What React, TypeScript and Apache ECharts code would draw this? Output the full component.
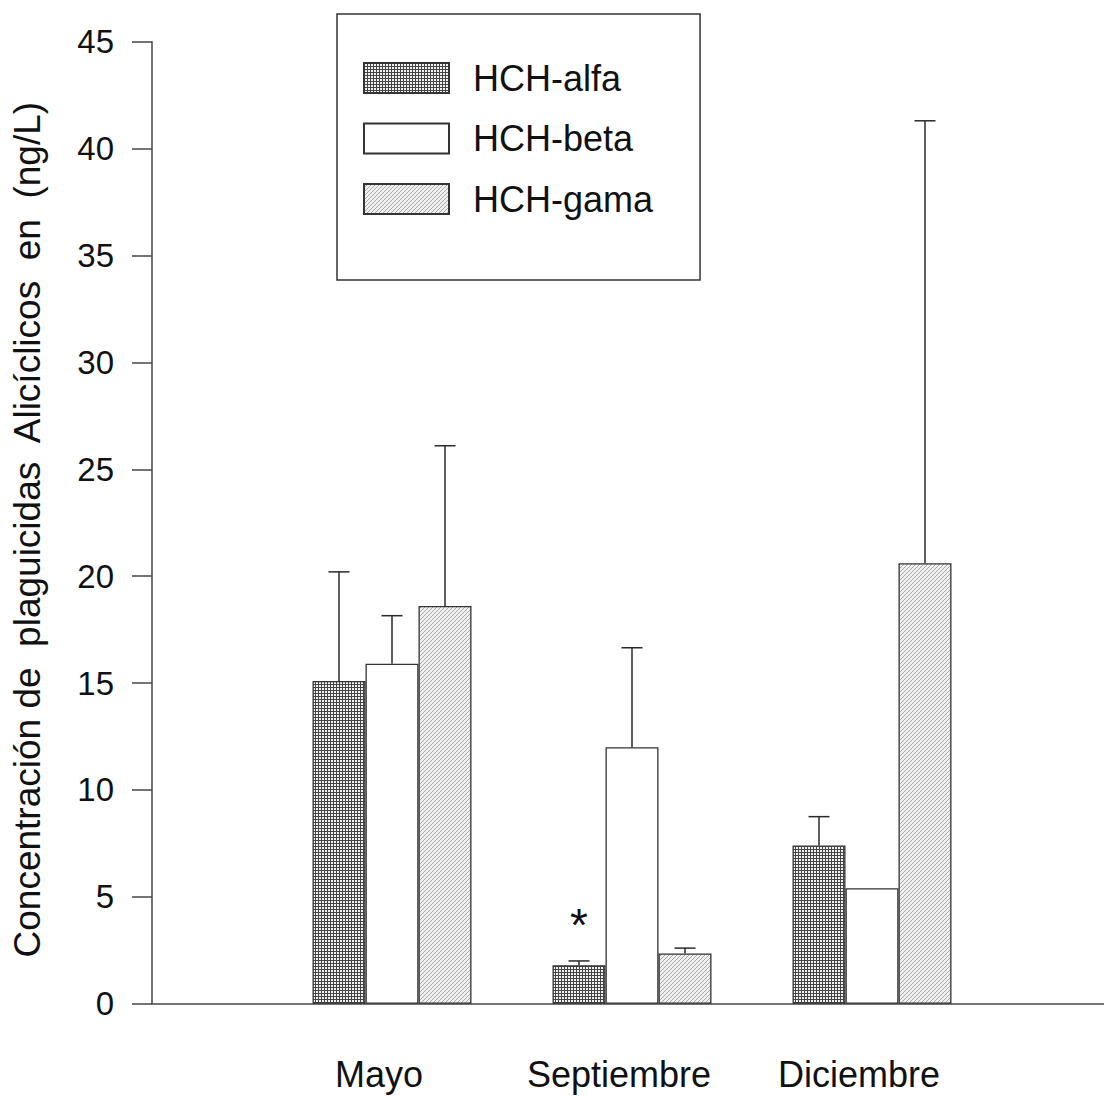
import React, { useEffect, useRef } from "react";
import * as echarts from "echarts";

const CATEGORIES = ["Mayo", "Septiembre", "Diciembre"];
const SERIES_NAMES = ["HCH-alfa", "HCH-beta", "HCH-gama"];
const ALFA = [15.1, 1.8, 7.4];
const ALFA_UPPER = [20.2, 2.0, 8.75];
const BETA = [15.9, 12.0, 5.4];
const BETA_UPPER: (number | null)[] = [18.15, 16.65, null];
const GAMA = [18.6, 2.35, 20.6];
const GAMA_UPPER = [26.1, 2.6, 41.3];
const Y_MIN = 0;
const Y_MAX = 45;
const Y_STEP = 5;
const Y_TITLE = "Concentración de  plaguicidas  Alicíclicos  en  (ng/L)";
const STAR_NOTE = { category: 1, series: 0, text: "*" };

const FONT = "'Liberation Sans', Arial, sans-serif";

function makeGridPattern() {
  const c = document.createElement("canvas");
  c.width = 3;
  c.height = 3;
  const ctx = c.getContext("2d")!;
  ctx.fillStyle = "#f2f2f2";
  ctx.fillRect(0, 0, 3, 3);
  ctx.fillStyle = "#444444";
  ctx.fillRect(0, 0, 3, 1);
  ctx.fillRect(0, 0, 1, 3);
  return c;
}

function makeDiagPattern() {
  const c = document.createElement("canvas");
  c.width = 4;
  c.height = 4;
  const ctx = c.getContext("2d")!;
  ctx.fillStyle = "#f0f0f0";
  ctx.fillRect(0, 0, 4, 4);
  ctx.fillStyle = "#a8a8a8";
  ctx.fillRect(3, 0, 1, 1);
  ctx.fillRect(2, 1, 1, 1);
  ctx.fillRect(1, 2, 1, 1);
  ctx.fillRect(0, 3, 1, 1);
  return c;
}

export default function App() {
  const ref = useRef<HTMLDivElement>(null);

  useEffect(() => {
    if (!ref.current) return;
    const chart = echarts.init(ref.current, null, { renderer: "svg" });

    const axisCats = ["", ...CATEGORIES, ""];
    const values = [ALFA, BETA, GAMA];
    const uppers = [ALFA_UPPER, BETA_UPPER, GAMA_UPPER];
    const fills: any[] = [
      { image: makeGridPattern(), repeat: "repeat" },
      "#ffffff",
      { image: makeDiagPattern(), repeat: "repeat" },
    ];
    const BAR_W = 53;
    const offsets = [-BAR_W, 0, BAR_W];

    const barSeries = values.map((vals, si) => ({
      name: SERIES_NAMES[si],
      type: "bar",
      barWidth: BAR_W,
      barGap: "0%",
      itemStyle: {
        color: fills[si],
        borderColor: "#333",
        borderWidth: 1.3,
      },
      data: [
        "-",
        ...vals.map((v, ci) =>
          si === STAR_NOTE.series && ci === STAR_NOTE.category
            ? {
                value: v,
                label: {
                  show: true,
                  position: "top",
                  distance: 17,
                  formatter: STAR_NOTE.text,
                  fontSize: 46,
                  fontFamily: FONT,
                  color: "#111",
                },
              }
            : v
        ),
        "-",
      ],
      z: 2,
    }));

    const errSeries = values.map((vals, si) => ({
      name: "err-" + SERIES_NAMES[si],
      type: "custom",
      z: 3,
      encode: { x: 0, y: [1, 2] },
      data: vals
        .map((v, ci) => [ci + 1, v, uppers[si][ci]])
        .filter((d) => d[2] != null),
      renderItem: (params: any, api: any) => {
        const top = api.coord([api.value(0), api.value(2)]);
        const base = api.coord([api.value(0), api.value(1)]);
        const x = top[0] + offsets[si];
        const style = { stroke: "#2a2a2a", lineWidth: 1.5 };
        return {
          type: "group",
          children: [
            { type: "line", shape: { x1: x, y1: base[1], x2: x, y2: top[1] }, style },
            { type: "line", shape: { x1: x - 10.5, y1: top[1], x2: x + 10.5, y2: top[1] }, style },
          ],
        };
      },
    }));

    chart.setOption({
      animation: false,
      backgroundColor: "#ffffff",
      textStyle: { fontFamily: FONT },
      grid: { left: 152, top: 41.7, width: 960, height: 962, outerBoundsMode: "none" },
      legend: {
        data: SERIES_NAMES,
        orient: "vertical",
        left: 337,
        top: 14,
        icon: "rect",
        itemWidth: 85,
        itemHeight: 30,
        itemGap: 24.5,
        padding: [46, 47, 63, 26],
        borderColor: "#333",
        borderWidth: 1.5,
        textStyle: {
          fontSize: 36,
          lineHeight: 30,
          color: "#111",
          fontFamily: FONT,
          padding: [0, 0, 0, 19],
        },
      },
      xAxis: {
        type: "category",
        data: axisCats,
        boundaryGap: false,
        axisLine: { lineStyle: { color: "#444", width: 1.5 } },
        axisTick: { show: false },
        axisLabel: {
          interval: 0,
          fontSize: 36,
          color: "#111",
          margin: 53,
          padding: [0, 26, 0, 0],
          fontFamily: FONT,
        },
      },
      yAxis: {
        type: "value",
        min: Y_MIN,
        max: Y_MAX,
        interval: Y_STEP,
        name: Y_TITLE,
        nameLocation: "middle",
        nameGap: 106,
        nameTextStyle: { fontSize: 37, color: "#111", fontFamily: FONT, padding: [0, 14, 0, 0] },
        axisLine: { show: true, lineStyle: { color: "#444", width: 1.5 } },
        axisTick: { show: true, length: 20, lineStyle: { color: "#444", width: 1.5 } },
        axisLabel: { fontSize: 33, color: "#111", margin: 38, fontFamily: FONT },
        splitLine: { show: false },
      },
      series: [...barSeries, ...errSeries],
    });

    return () => chart.dispose();
  }, []);

  return (
    <div
      ref={ref}
      style={{ position: "fixed", left: 0, top: 0, width: 1104, height: 1097, background: "#fff" }}
    />
  );
}
